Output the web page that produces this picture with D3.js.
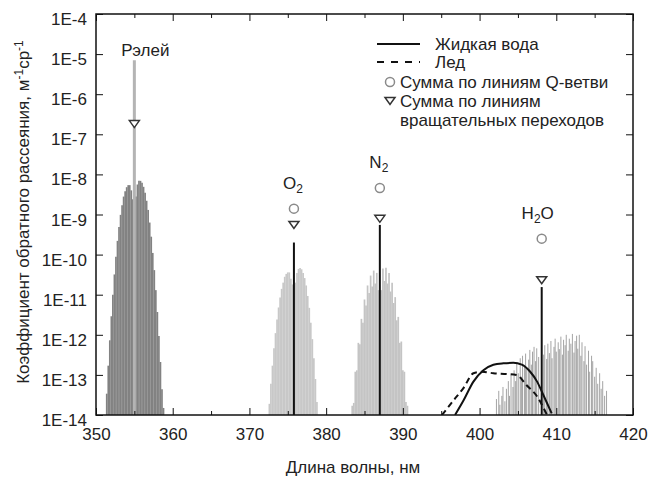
<!DOCTYPE html>
<html>
<head>
<meta charset="utf-8">
<script src="https://cdn.jsdelivr.net/npm/d3@7"></script>
<style>
  body { margin: 0; background: #fff; }
  text { font-family: "Liberation Sans", Arial, sans-serif; fill: #222; }
</style>
</head>
<body>
<div id="chart"></div>
<script>
// --- data: [wavelength nm, backscatter m^-1 sr^-1] ---
const rayleighBand = [
  [351.4, 3.4e-14], [351.6, 1.7e-13], [351.8, 7.3e-13], [352.0, 2.9e-12], [352.2, 1.0e-11],
  [352.4, 3.2e-11], [352.6, 8.9e-11], [352.8, 2.2e-10], [353.0, 4.9e-10], [353.2, 9.8e-10],
  [353.4, 1.7e-9], [353.6, 2.8e-9], [353.8, 3.8e-9], [354.0, 4.8e-9], [354.2, 5.4e-9],
  [354.4, 5.4e-9], [354.6, 4.0e-9], [354.8, 2.4e-9],
  [355.2, 2.8e-9], [355.4, 5.6e-9], [355.6, 6.9e-9], [355.8, 6.9e-9], [356.0, 6.2e-9],
  [356.2, 4.9e-9], [356.4, 3.5e-9], [356.6, 2.2e-9], [356.8, 1.3e-9], [357.0, 6.3e-10],
  [357.2, 2.8e-10], [357.4, 1.1e-10], [357.6, 4.1e-11], [357.8, 1.3e-11], [358.0, 3.7e-12],
  [358.2, 9.3e-13], [358.4, 2.1e-13], [358.6, 4.4e-14], [358.8, 1.5e-14]
];
const o2Band = [
  [372.6, 1.9e-14], [372.8, 6.0e-14], [373.0, 1.7e-13], [373.2, 4.6e-13], [373.4, 1.1e-12],
  [373.6, 2.4e-12], [373.8, 4.8e-12], [374.0, 8.5e-12], [374.2, 1.4e-11], [374.4, 2.0e-11],
  [374.6, 2.8e-11], [374.8, 3.3e-11], [375.0, 3.6e-11], [375.2, 3.6e-11], [375.4, 2.5e-11],
  [375.6, 1.8e-11], [376.0, 2.0e-11], [376.2, 3.5e-11], [376.4, 4.4e-11], [376.6, 4.6e-11],
  [376.8, 4.3e-11], [377.0, 3.5e-11], [377.2, 2.6e-11], [377.4, 1.7e-11], [377.6, 9.3e-12],
  [377.8, 4.7e-12], [378.0, 2.0e-12], [378.2, 7.8e-13], [378.4, 2.6e-13], [378.6, 7.9e-14],
  [378.8, 2.1e-14]
];
const n2Band = [
  [383.4, 1.7e-14], [383.6, 2.0e-14], [383.8, 1.2e-13], [384.0, 1.3e-13], [384.2, 6.3e-13],
  [384.4, 5.8e-13], [384.6, 2.5e-12], [384.8, 2.0e-12], [385.0, 7.6e-12], [385.2, 5.4e-12],
  [385.4, 1.7e-11], [385.6, 1.1e-11], [385.8, 3.0e-11], [386.0, 1.6e-11], [386.2, 4.0e-11],
  [386.4, 1.9e-11], [386.6, 3.5e-11], [386.8, 1.3e-11],
  [387.2, 1.3e-11], [387.4, 4.5e-11], [387.6, 2.2e-11], [387.8, 4.7e-11], [388.0, 1.9e-11],
  [388.2, 3.5e-11], [388.4, 1.2e-11], [388.6, 2.0e-11], [388.8, 6.2e-12], [389.0, 8.7e-12],
  [389.2, 2.3e-12], [389.4, 2.8e-12], [389.6, 6.3e-13], [389.8, 6.8e-13], [390.0, 1.3e-13],
  [390.2, 1.2e-13], [390.4, 2.1e-14], [390.6, 1.7e-14]
];
const h2oBand = [
  [402.2, 2.5e-14], [402.5, 4e-14], [402.65, 1.8e-14], [402.9, 3e-14], [403.05, 5e-14],
  [403.3, 2.2e-14], [403.5, 4.5e-14], [403.75, 7e-14], [403.9, 3e-14], [404.1, 1e-13],
  [404.35, 5e-14], [404.5, 1.3e-13], [404.7, 7e-14], [404.85, 2e-13], [405.05, 1.1e-13],
  [405.3, 2.6e-13], [405.45, 9e-14], [405.6, 3e-13], [405.85, 1.6e-13], [406.0, 3.4e-13],
  [406.15, 1.5e-13], [406.4, 2.4e-13], [406.55, 4.2e-13], [406.75, 1.8e-13], [406.9, 3.8e-13],
  [407.1, 5e-13], [407.3, 2.2e-13], [407.45, 4.6e-13], [407.7, 2.8e-13], [408.35, 3.2e-13],
  [408.5, 5.5e-13], [408.75, 2.5e-13], [408.9, 6e-13], [409.1, 3.5e-13], [409.3, 7e-13],
  [409.45, 2.6e-13], [409.7, 5e-13], [409.85, 8e-13], [410.0, 3.8e-13], [410.25, 6.5e-13],
  [410.4, 4.4e-13], [410.6, 9e-13], [410.8, 3.2e-13], [410.95, 7.5e-13], [411.15, 5.5e-13],
  [411.3, 1e-12], [411.55, 4e-13], [411.7, 8e-13], [411.9, 6e-13], [412.1, 1.05e-12],
  [412.3, 3.6e-13], [412.45, 7e-13], [412.65, 9.5e-13], [412.8, 4.5e-13], [413.0, 1e-12],
  [413.2, 3e-13], [413.35, 6.5e-13], [413.6, 2.2e-13], [413.75, 5.2e-13], [413.95, 1.8e-13],
  [414.2, 4e-13], [414.35, 1.2e-13], [414.6, 3e-13], [414.75, 2.2e-13], [415.0, 9e-14],
  [415.2, 1.5e-13], [415.4, 6e-14], [415.65, 1.1e-13], [415.85, 4.5e-14], [416.05, 7e-14],
  [416.3, 3e-14], [416.55, 4e-14]
];

const waterWl  = [396.8, 397.9, 399.2, 400.5, 401.8, 403.1, 404.4, 405.5, 406.6, 407.5, 408.3, 409.4];
const waterVal = [1e-14, 2.3e-14, 6.8e-14, 1.3e-13, 1.8e-13, 1.95e-13, 2.0e-13, 1.8e-13, 1.2e-13, 6.8e-14, 3.2e-14, 1.1e-14];
const iceWl  = [395.1, 396.6, 397.9, 399.2, 400.3, 401.8, 403.5, 404.8, 406.1, 407.5, 408.5, 408.8];
const iceVal = [1e-14, 2.3e-14, 4.7e-14, 1.1e-13, 1.2e-13, 1.1e-13, 1.05e-13, 1.0e-13, 5.6e-14, 2.9e-14, 1.3e-14, 1e-14];

const species    = ["Рэлей", "O2", "N2", "H2O"];
const centerWl   = [355.0, 375.8, 387.0, 408.1];
const qLineVal   = [7e-6, 2.0e-10, 5.5e-10, 1.55e-11];   // vertical line tops
const qSumVal    = [null, 1.4e-9, 4.6e-9, 2.5e-10];      // circles
const rotSumVal  = [1.8e-7, 5.5e-10, 7.8e-10, 2.3e-11];  // triangles

const legendLabels = ["Жидкая вода", "Лед", "Сумма по линиям Q-ветви", "Сумма по линиям", "вращательных переходов"];

// --- chart ---
const width = 652, height = 479;
const x = d3.scaleLinear().domain([350, 420]).range([96, 633]);
const y = d3.scaleLog().domain([1e-14, 1e-4]).range([415, 14]);
const base = 1e-14;

const svg = d3.select("#chart").append("svg")
  .attr("width", width).attr("height", height);

svg.append("clipPath").attr("id", "plot")
  .append("rect").attr("x", 96).attr("y", 14).attr("width", 537).attr("height", 401);

const plot = svg.append("g").attr("clip-path", "url(#plot)");

function sticks(data, color, w, op) {
  plot.append("g").selectAll("line").data(data).join("line")
    .attr("x1", d => x(d[0])).attr("x2", d => x(d[0]))
    .attr("y1", y(base)).attr("y2", d => y(Math.max(d[1], base)))
    .attr("stroke", color).attr("stroke-width", w).attr("stroke-opacity", op);
}

sticks(rayleighBand, "#828282", 1.7, 1);
sticks(o2Band, "#c8c8c8", 1.7, 1);
sticks(n2Band, "#c4c4c4", 1.7, 1);
sticks(h2oBand, "#555", 0.9, 0.6);

// water curves
const curve = d3.line().x(d => x(d[0])).y(d => y(d[1])).curve(d3.curveMonotoneX);
plot.append("path").datum(d3.zip(waterWl, waterVal))
  .attr("d", curve).attr("fill", "none").attr("stroke", "#111").attr("stroke-width", 2);
plot.append("path").datum(d3.zip(iceWl, iceVal))
  .attr("d", curve).attr("fill", "none").attr("stroke", "#111").attr("stroke-width", 2)
  .attr("stroke-dasharray", "6,4");

// Q-branch / Rayleigh lines
const centers = species.map((s, i) => ({ s, wl: centerWl[i], top: qLineVal[i], q: qSumVal[i], r: rotSumVal[i] }));
plot.append("g").selectAll("line").data(centers).join("line")
  .attr("x1", d => x(d.wl)).attr("x2", d => x(d.wl))
  .attr("y1", y(base)).attr("y2", d => y(d.top))
  .attr("stroke", (d, i) => i === 0 ? "#b4b4b4" : "#111")
  .attr("stroke-width", (d, i) => i === 0 ? 3 : 2);

// markers
const tri = "M-5,-3.5L5,-3.5L0,3.5Z";
svg.append("g").selectAll("circle").data(centers.filter(d => d.q)).join("circle")
  .attr("cx", d => x(d.wl)).attr("cy", d => y(d.q)).attr("r", 4.5)
  .attr("fill", "#fff").attr("stroke", "#8a8a8a").attr("stroke-width", 1.5);
svg.append("g").selectAll("path").data(centers).join("path")
  .attr("d", tri).attr("transform", d => `translate(${x(d.wl)},${y(d.r)})`)
  .attr("fill", "#fff").attr("stroke", "#333").attr("stroke-width", 1.5);

// species labels
const lab = svg.append("g").attr("font-size", 17);
lab.append("text").attr("x", x(centers[0].wl) + 11).attr("y", y(centers[0].top) - 4)
  .attr("text-anchor", "middle").text(centers[0].s);
centers.slice(1).forEach((d, i) => {
  const t = lab.append("text")
    .attr("x", x(d.wl) + [-1, -1, -4][i]).attr("y", y(d.q) - 20)
    .attr("text-anchor", "middle");
  if (d.s === "H2O") {
    t.append("tspan").text("H");
    t.append("tspan").attr("font-size", 12).attr("dy", 4).text("2");
    t.append("tspan").attr("dy", -4).text("O");
  } else {
    t.append("tspan").text(d.s[0]);
    t.append("tspan").attr("font-size", 12).attr("dy", 4).text("2");
  }
});

// axes
const yMajor = d3.range(-14, -3).map(e => Math.pow(10, e));
const yMinor = y.ticks().filter(v => !yMajor.some(m => Math.abs(v / m - 1) < 1e-6));
const xMajor = d3.range(350, 421, 10);
const xMinor = d3.range(355, 420, 10);

function style(g) {
  g.select(".domain").remove();
  g.selectAll("line").attr("stroke", "#111");
  g.selectAll("text").attr("font-size", 17).attr("font-family", "'Liberation Sans', Arial, sans-serif").attr("fill", "#222");
}

svg.append("g").attr("transform", "translate(96,0)")
  .call(d3.axisLeft(y).tickValues(yMajor).tickSize(-7).tickPadding(9)
    .tickFormat(d => "1E" + Math.round(Math.log10(d))))
  .call(style).call(g => g.selectAll("text").attr("dy", "0.62em"));
svg.append("g").attr("transform", "translate(96,0)")
  .call(d3.axisLeft(y).tickValues(yMinor).tickSize(-3.5).tickFormat("")).call(style);
svg.append("g").attr("transform", "translate(633,0)")
  .call(d3.axisRight(y).tickValues(yMajor).tickSize(-7).tickFormat("")).call(style);
svg.append("g").attr("transform", "translate(633,0)")
  .call(d3.axisRight(y).tickValues(yMinor).tickSize(-3.5).tickFormat("")).call(style);

svg.append("g").attr("transform", "translate(0,415)")
  .call(d3.axisBottom(x).tickValues(xMajor).tickSize(-7).tickPadding(13).tickFormat(d3.format("d")))
  .call(style);
svg.append("g").attr("transform", "translate(0,415)")
  .call(d3.axisBottom(x).tickValues(xMinor).tickSize(-4).tickFormat("")).call(style);
svg.append("g").attr("transform", "translate(0,14)")
  .call(d3.axisTop(x).tickValues(xMajor).tickSize(-7).tickFormat("")).call(style);
svg.append("g").attr("transform", "translate(0,14)")
  .call(d3.axisTop(x).tickValues(xMinor).tickSize(-4).tickFormat("")).call(style);

svg.append("rect").attr("x", 96).attr("y", 14).attr("width", 537).attr("height", 401)
  .attr("fill", "none").attr("stroke", "#111").attr("stroke-width", 1.5);

// axis titles
svg.append("text").attr("x", 353).attr("y", 473).attr("text-anchor", "middle")
  .attr("font-size", 17).text("Длина волны, нм");
const yt = svg.append("text").attr("transform", "translate(29,212) rotate(-90)")
  .attr("text-anchor", "middle").attr("font-size", 17);
yt.append("tspan").text("Коэффициент обратного рассеяния, м");
yt.append("tspan").attr("dy", -6).attr("font-size", 12).text("-1");
yt.append("tspan").attr("dy", 6).text("ср");
yt.append("tspan").attr("dy", -6).attr("font-size", 12).text("-1");

// legend
const lg = svg.append("g").attr("font-size", 17);
lg.append("line").attr("x1", 377).attr("x2", 420).attr("y1", 44).attr("y2", 44)
  .attr("stroke", "#111").attr("stroke-width", 2);
lg.append("line").attr("x1", 377).attr("x2", 420).attr("y1", 62).attr("y2", 62)
  .attr("stroke", "#111").attr("stroke-width", 2).attr("stroke-dasharray", "7,7");
lg.append("circle").attr("cx", 390).attr("cy", 82).attr("r", 4.5)
  .attr("fill", "#fff").attr("stroke", "#8a8a8a").attr("stroke-width", 1.5);
lg.append("path").attr("d", tri).attr("transform", "translate(390,101)")
  .attr("fill", "#fff").attr("stroke", "#333").attr("stroke-width", 1.5);
const lgPos = [[435, 44], [435, 62], [400, 82], [400, 101], [400, 120]];
lg.selectAll("text.item").data(legendLabels).join("text").attr("class", "item")
  .attr("x", (d, i) => lgPos[i][0]).attr("y", (d, i) => lgPos[i][1])
  .attr("dy", "0.35em").text(d => d);
</script>
</body>
</html>
